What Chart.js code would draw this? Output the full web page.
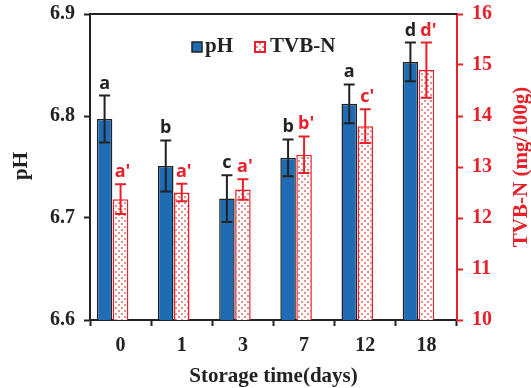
<!DOCTYPE html>
<html>
<head>
<meta charset="utf-8">
<script src="https://cdn.jsdelivr.net/npm/chart.js@4.4.1/dist/chart.umd.min.js"></script>
<style>
  html, body { margin: 0; padding: 0; background: #fff; }
  #wrap { width: 531px; height: 388px; position: relative; }
</style>
</head>
<body>
<div id="wrap"><canvas id="c" width="531" height="388"></canvas></div>
<script>
// ---- data ----
const categories = ['0', '1', '3', '7', '12', '18'];
const phValues = [6.797, 6.751, 6.719, 6.759, 6.812, 6.853];
const phErrors = [0.023, 0.025, 0.023, 0.018, 0.019, 0.019];
const phLetters = ['a', 'b', 'c', 'b', 'a', 'd'];
const tvbValues = [12.37, 12.50, 12.56, 13.24, 13.80, 14.90];
const tvbErrors = [0.29, 0.17, 0.20, 0.36, 0.33, 0.54];
const tvbLetters = ["a'", "a'", "a'", "b'", "c'", "d'"];
const phTicks = [6.6, 6.7, 6.8, 6.9];
const tvbTicks = [10, 11, 12, 13, 14, 15, 16];

const BLUE = '#1f6cb4';
const RED = '#e8202a';
const DARK = '#222222';
const SERIF = '"Liberation Serif", "Times New Roman", serif';
const SANS = '"Open Sans", "Liberation Sans", Arial, sans-serif';

function dotPattern(ctx) {
  const t = document.createElement('canvas');
  t.width = 6; t.height = 6;
  const c = t.getContext('2d');
  c.fillStyle = '#ffffff';
  c.fillRect(0, 0, 6, 6);
  c.fillStyle = 'rgba(228,120,120,0.85)';
  c.fillRect(1, 1, 2, 2);
  c.fillRect(4, 4, 2, 2);
  return ctx.createPattern(t, 'repeat');
}

const canvas = document.getElementById('c');
const ctx0 = canvas.getContext('2d');
const pattern = dotPattern(ctx0);

function fixV(width) {
  return function (s) { s.width = width; s.paddingTop = 0; s.paddingBottom = 0; };
}

const errorPlugin = {
  id: 'errs',
  afterDatasetsDraw(chart) {
    const ctx = chart.ctx;
    const sets = [
      { idx: 0, vals: phValues, errs: phErrors, letters: phLetters, color: DARK, scale: chart.scales.y },
      { idx: 1, vals: tvbValues, errs: tvbErrors, letters: tvbLetters, color: RED, scale: chart.scales.y1 }
    ];
    ctx.save();
    sets.forEach(s => {
      const meta = chart.getDatasetMeta(s.idx);
      meta.data.forEach((bar, j) => {
        const x = bar.x;
        const yTop = s.scale.getPixelForValue(s.vals[j] + s.errs[j]);
        const yBot = s.scale.getPixelForValue(s.vals[j] - s.errs[j]);
        ctx.strokeStyle = s.color;
        ctx.lineWidth = 2;
        ctx.beginPath();
        ctx.moveTo(x, yTop); ctx.lineTo(x, yBot);
        ctx.moveTo(x - 5.5, yTop); ctx.lineTo(x + 5.5, yTop);
        ctx.moveTo(x - 5.5, yBot); ctx.lineTo(x + 5.5, yBot);
        ctx.stroke();
        ctx.fillStyle = s.color;
        ctx.font = 'bold 18px ' + SANS;
        ctx.textAlign = 'center';
        ctx.textBaseline = 'alphabetic';
        const off = s.idx === 1 ? 2 : 0;
        ctx.fillText(s.letters[j], x + off, yTop - 7);
      });
    });
    ctx.restore();
  },
  afterDraw(chart) {
    const ctx = chart.ctx;
    const a = chart.chartArea;
    ctx.save();
    // top frame line
    ctx.strokeStyle = DARK;
    ctx.lineWidth = 2;
    ctx.beginPath();
    ctx.moveTo(a.left - 1, a.top);
    ctx.lineTo(a.right, a.top);
    ctx.stroke();

    // legend
    const ds = chart.data.datasets;
    ctx.font = 'bold 21px ' + SERIF;
    ctx.textBaseline = 'middle';
    ctx.textAlign = 'left';
    // pH
    ctx.fillStyle = BLUE;
    ctx.fillRect(192, 42, 10, 10);
    ctx.strokeStyle = DARK; ctx.lineWidth = 1.5;
    ctx.strokeRect(192, 42, 10, 10);
    ctx.fillStyle = DARK;
    ctx.fillText(ds[0].label, 205, 47);
    // TVB-N
    ctx.fillStyle = pattern;
    ctx.fillRect(255, 42, 10, 10);
    ctx.strokeStyle = RED; ctx.lineWidth = 2;
    ctx.strokeRect(255, 42, 10, 10);
    ctx.fillStyle = DARK;
    ctx.fillText(ds[1].label, 270, 47);

    // axis titles
    ctx.textAlign = 'center';
    ctx.textBaseline = 'middle';
    ctx.font = 'bold 21px ' + SERIF;
    ctx.fillStyle = DARK;
    ctx.fillText('Storage time(days)', (a.left + a.right) / 2, 377);

    ctx.save();
    ctx.translate(22, 166);
    ctx.rotate(-Math.PI / 2);
    ctx.font = 'bold 21px ' + SERIF;
    ctx.fillText('pH', 0, 0);
    ctx.restore();

    ctx.save();
    ctx.translate(522, 167);
    ctx.rotate(-Math.PI / 2);
    ctx.fillStyle = RED;
    ctx.font = 'bold 21px ' + SERIF;
    ctx.fillText('TVB-N (mg/100g)', 0, 0);
    ctx.restore();

    ctx.restore();
  }
};

new Chart(canvas, {
  type: 'bar',
  data: {
    labels: categories,
    datasets: [
      {
        label: 'pH', data: phValues, yAxisID: 'y',
        backgroundColor: BLUE, borderColor: DARK, borderWidth: 1.5, borderSkipped: false
      },
      {
        label: 'TVB-N', data: tvbValues, yAxisID: 'y1',
        backgroundColor: pattern, borderColor: RED, borderWidth: 1.5, borderSkipped: false
      },
      {
        label: '', data: categories.map(() => null), yAxisID: 'y',
        backgroundColor: 'rgba(0,0,0,0)'
      }
    ]
  },
  options: {
    responsive: false,
    animation: false,
    devicePixelRatio: 1,
    categoryPercentage: 0.785,
    barPercentage: 0.97,
    layout: { padding: { top: 14, left: 0, right: 0, bottom: 0 } },
    plugins: { legend: { display: false }, tooltip: { enabled: false } },
    scales: {
      x: {
        afterFit(s) { s.height = 68; s.paddingLeft = 0; s.paddingRight = 0; },
        grid: { drawOnChartArea: false, drawTicks: true, tickLength: 6, color: DARK, tickWidth: 2, offset: true },
        border: { color: DARK, width: 2 },
        ticks: { color: DARK, font: { family: SERIF, size: 20, weight: 'bold' }, padding: 8 }
      },
      y: {
        position: 'left',
        min: 6.6, max: 6.9,
        afterFit: fixV(90),
        afterBuildTicks(s) { s.ticks = phTicks.map(v => ({ value: v })); },
        grid: { drawOnChartArea: false, drawTicks: true, tickLength: 6, color: DARK, tickWidth: 2 },
        border: { color: DARK, width: 2 },
        ticks: { color: DARK, font: { family: SERIF, size: 20, weight: 'bold' }, padding: 9,
          callback: v => Number(v).toFixed(1) }
      },
      y1: {
        position: 'right',
        min: 10, max: 16,
        afterFit: fixV(74),
        afterBuildTicks(s) { s.ticks = tvbTicks.map(v => ({ value: v })); },
        grid: { drawOnChartArea: false, drawTicks: true, tickLength: 6, color: RED, tickWidth: 2 },
        border: { color: RED, width: 2 },
        ticks: { color: RED, font: { family: SERIF, size: 20, weight: 'bold' }, padding: 9,
          callback: v => String(v) }
      }
    }
  },
  plugins: [errorPlugin]
});
</script>
</body>
</html>
